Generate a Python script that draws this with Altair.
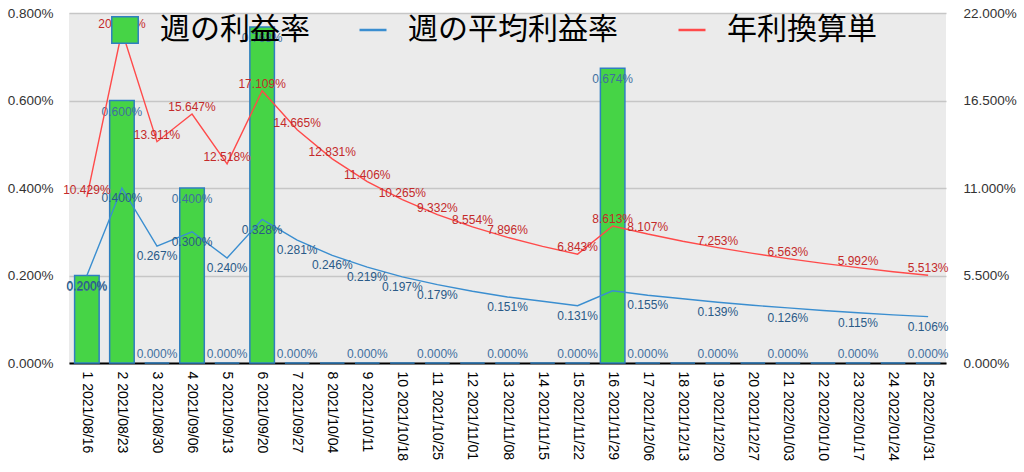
import altair as alt
import pandas as pd

x_labels = [
    "1 2021/08/16", "2 2021/08/23", "3 2021/08/30", "4 2021/09/06", "5 2021/09/13",
    "6 2021/09/20", "7 2021/09/27", "8 2021/10/04", "9 2021/10/11", "10 2021/10/18",
    "11 2021/10/25", "12 2021/11/01", "13 2021/11/08", "14 2021/11/15", "15 2021/11/22",
    "16 2021/11/29", "17 2021/12/06", "18 2021/12/13", "19 2021/12/20", "20 2021/12/27",
    "21 2022/01/03", "22 2022/01/10", "23 2022/01/17", "24 2022/01/24", "25 2022/01/31",
]
weekly = [0.200, 0.600, 0.000, 0.400, 0.000, 0.768, 0.000, 0.000, 0.000, 0.000,
          0.000, 0.000, 0.000, 0.000, 0.000, 0.674, 0.000, 0.000, 0.000, 0.000,
          0.000, 0.000, 0.000, 0.000, 0.000]
avg = [0.200, 0.400, 0.267, 0.300, 0.240, 0.328, 0.281, 0.246, 0.219, 0.197,
       0.179, 0.164, 0.151, 0.141, 0.131, 0.165, 0.155, 0.147, 0.139, 0.132,
       0.126, 0.120, 0.115, 0.110, 0.106]
annual = [10.429, 20.866, 13.911, 15.647, 12.518, 17.109, 14.665, 12.831, 11.406, 10.265,
          9.332, 8.554, 7.896, 7.331, 6.843, 8.613, 8.107, 7.654, 7.253, 6.888,
          6.563, 6.262, 5.992, 5.740, 5.513]
# which value labels are visible in the original
show_weekly = [1, 1, 1, 1, 1, 1, 1, 0, 1, 0, 1, 0, 1, 0, 1, 1, 1, 0, 1, 0, 1, 0, 1, 0, 1]
show_avg = [1, 1, 1, 1, 1, 1, 1, 1, 1, 1, 1, 0, 1, 0, 1, 0, 1, 0, 1, 0, 1, 0, 1, 0, 1]
show_annual = [1, 1, 1, 1, 1, 1, 1, 1, 1, 1, 1, 1, 1, 0, 1, 1, 1, 0, 1, 0, 1, 0, 1, 0, 1]

s_week = "週の利益率"
s_avg = "週の平均利益率"
s_ann = "年利換算単"

df = pd.DataFrame({
    "label": x_labels, "w": weekly, "avg": avg, "ann": annual,
    "sw": show_weekly, "sa": show_avg, "sn": show_annual,
    "s_week": s_week, "s_avg": s_avg, "s_ann": s_ann,
})

NUM_FONT = "Liberation Sans"
JP_FONT = "Noto Sans CJK JP"

base = alt.Chart(df)
x_enc = alt.X(
    "label:N", sort=x_labels, title=None,
    scale=alt.Scale(paddingInner=0.3, paddingOuter=0.16),
    axis=alt.Axis(labelAngle=90, labelAlign="left", labelBaseline="middle",
                  labelFontSize=14, labelFont=NUM_FONT, labelColor="black",
                  labelPadding=8, ticks=False, domainColor="black", domainWidth=2,
                  grid=False, labelOverlap=False),
)

left_scale = alt.Scale(domain=[0, 0.8], nice=False)
left_axis = alt.Axis(values=[0, 0.2, 0.4, 0.6, 0.8], labelExpr="format(datum.value, '.3f') + '%'",
                     orient="left", grid=True, gridColor="#c6c6c6", gridWidth=1.5,
                     domain=False, ticks=False, labelPadding=16, labelFontSize=13.5,
                     labelFont=NUM_FONT, labelColor="#333333")
right_scale = alt.Scale(domain=[0, 22], nice=False)
right_axis = alt.Axis(values=[0, 5.5, 11, 16.5, 22], labelExpr="format(datum.value, '.3f') + '%'",
                      orient="right", grid=False, domain=False, ticks=False, labelPadding=17,
                      labelFontSize=13.5, labelFont=NUM_FONT, labelColor="#333333")

fill_legend = alt.Legend(orient="none", legendX=41, legendY=2, title=None, padding=0,
                         symbolType="square", symbolSize=700, symbolStrokeColor="#2f7fc0",
                         symbolStrokeWidth=1.5, symbolOpacity=1,
                         labelFont=JP_FONT, labelFontSize=30, labelColor="black",
                         labelOffset=20, labelLimit=400)
stroke_legend = alt.Legend(orient="none", legendX=289, legendY=2, title=None, padding=0,
                           direction="horizontal", symbolType="stroke", symbolSize=729,
                           symbolStrokeWidth=2.5, columnPadding=55,
                           labelFont=JP_FONT, labelFontSize=30, labelColor="black",
                           labelOffset=20, labelLimit=400)
stroke_scale = alt.Scale(domain=[s_avg, s_ann], range=["#3a8ed0", "#ff4a4a"])

bars = base.mark_bar(stroke="#2f7fc0", strokeWidth=1.5).encode(
    x=x_enc,
    y=alt.Y("w:Q", scale=left_scale, axis=left_axis, title=None),
    fill=alt.Fill("s_week:N", scale=alt.Scale(domain=[s_week], range=["#46d446"]),
                  legend=fill_legend),
)
bar_lab_pos = base.transform_filter("datum.w > 0 && datum.sw == 1").transform_calculate(
    t="format(datum.w, '.3f') + '%'"
).mark_text(dy=11, fontSize=12, font=NUM_FONT, color="#3f6f9f").encode(
    x=x_enc, y=alt.Y("w:Q", scale=left_scale, axis=left_axis, title=None), text="t:N")
bar_lab_zero = base.transform_filter("datum.w == 0 && datum.sw == 1").transform_calculate(
    t="format(datum.w, '.3f') + '%'"
).mark_text(dy=-9, fontSize=12, font=NUM_FONT, color="#3f6f9f").encode(
    x=x_enc, y=alt.Y("w:Q", scale=left_scale, axis=left_axis, title=None), text="t:N")
avg_line = base.mark_line(strokeWidth=1.4).encode(
    x=x_enc, y=alt.Y("avg:Q", scale=left_scale, axis=left_axis, title=None),
    stroke=alt.Stroke("s_avg:N", scale=stroke_scale, legend=stroke_legend),
)
avg_lab = base.transform_filter("datum.sa == 1").transform_calculate(
    t="format(datum.avg, '.3f') + '%'"
).mark_text(dy=10, fontSize=12, font=NUM_FONT, color="#2a5a88").encode(
    x=x_enc, y=alt.Y("avg:Q", scale=left_scale, axis=left_axis, title=None), text="t:N")

ann_line = base.mark_line(strokeWidth=1.4).encode(
    x=x_enc, y=alt.Y("ann:Q", scale=right_scale, axis=right_axis, title=None),
    stroke=alt.Stroke("s_ann:N", scale=stroke_scale, legend=stroke_legend),
)
ann_lab = base.transform_filter("datum.sn == 1").transform_calculate(
    t="format(datum.ann, '.3f') + '%'"
).mark_text(dy=-7, fontSize=12, font=NUM_FONT, color="#c42a2a").encode(
    x=x_enc, y=alt.Y("ann:Q", scale=right_scale, axis=right_axis, title=None), text="t:N")

left = alt.layer(bars, bar_lab_pos, bar_lab_zero, avg_line, avg_lab)
right = alt.layer(ann_line, ann_lab)

chart = alt.layer(left, right).resolve_scale(y="independent").properties(
    width=877, height=350,
    padding={"left": 69, "top": 13, "right": 78, "bottom": 109},
    autosize=alt.AutoSizeParams(type="none"),
    background="white",
).configure_view(fill="#ebebeb", stroke=None)

chart.save("out.html", embed_options={"renderer": "svg", "actions": False})
